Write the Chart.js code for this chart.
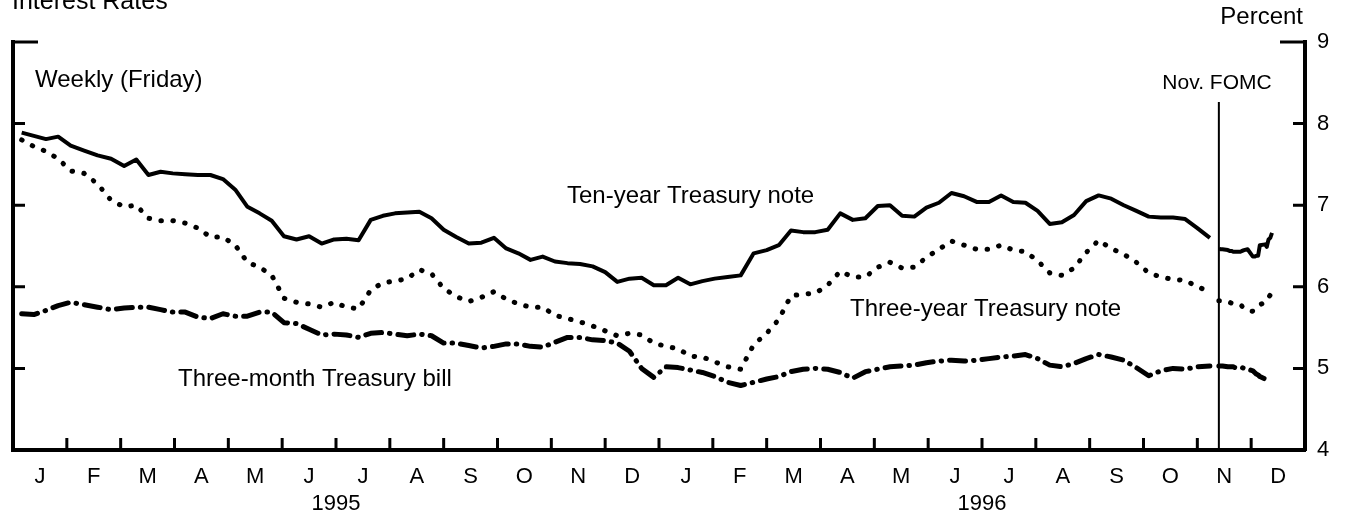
<!DOCTYPE html>
<html>
<head>
<meta charset="utf-8">
<script src="https://cdn.jsdelivr.net/npm/chart.js@4.4.1/dist/chart.umd.min.js"></script>
<style>
  body { margin: 0; background: #fff; }
</style>
</head>
<body>
<canvas id="ratesChart" width="1348" height="518"></canvas>
<script>
// weekly (Friday) readings, Jan 6 1995 .. Nov 8 1996
const firstFriday = '1995-01-06';
const tenYearWeekly = [
  7.89, 7.85, 7.81, 7.84, 7.73, 7.67, 7.61, 7.57, 7.48, 7.56,
  7.37, 7.41, 7.39, 7.38, 7.37, 7.37, 7.32, 7.19, 6.98, 6.90,
  6.81, 6.62, 6.58, 6.62, 6.53, 6.58, 6.59, 6.57, 6.82, 6.87,
  6.90, 6.91, 6.92, 6.84, 6.70, 6.61, 6.53, 6.54, 6.60, 6.47,
  6.41, 6.33, 6.37, 6.31, 6.29, 6.28, 6.25, 6.18, 6.06, 6.10,
  6.11, 6.02, 6.02, 6.11, 6.03, 6.07, 6.10, 6.12, 6.14, 6.41,
  6.45, 6.51, 6.69, 6.67, 6.67, 6.70, 6.90, 6.82, 6.84, 6.99,
  7.00, 6.87, 6.86, 6.97, 7.03, 7.15, 7.11, 7.04, 7.04, 7.12,
  7.04, 7.03, 6.93, 6.77, 6.79, 6.88, 7.05, 7.12, 7.08, 7.00,
  6.93, 6.86, 6.85, 6.85, 6.83, 6.72, 6.60
];
const threeYearWeekly = [
  7.80, 7.72, 7.66, 7.57, 7.42, 7.39, 7.26, 7.06, 6.98, 7.00,
  6.84, 6.81, 6.81, 6.78, 6.72, 6.61, 6.61, 6.51, 6.30, 6.24,
  6.14, 5.86, 5.81, 5.79, 5.75, 5.81, 5.75, 5.73, 5.96, 6.05,
  6.07, 6.10, 6.21, 6.16, 5.98, 5.88, 5.82, 5.87, 5.94, 5.85,
  5.79, 5.75, 5.75, 5.65, 5.61, 5.57, 5.52, 5.46, 5.40, 5.43,
  5.41, 5.31, 5.27, 5.24, 5.15, 5.14, 5.08, 5.02, 4.99, 5.29,
  5.43, 5.60, 5.89, 5.91, 5.92, 6.02, 6.19, 6.12, 6.12, 6.24,
  6.30, 6.23, 6.24, 6.36, 6.46, 6.56, 6.51, 6.46, 6.46, 6.51,
  6.45, 6.43, 6.32, 6.17, 6.14, 6.23, 6.42, 6.57, 6.47, 6.40,
  6.30, 6.17, 6.12, 6.09, 6.08, 6.00, 5.94
];
const billWeekly = [
  5.67, 5.66, 5.71, 5.77, 5.81, 5.78, 5.75, 5.72, 5.74, 5.75,
  5.75, 5.72, 5.69, 5.69, 5.63, 5.61, 5.67, 5.64, 5.64, 5.69,
  5.69, 5.56, 5.55, 5.48, 5.41, 5.42, 5.41, 5.38, 5.43, 5.44,
  5.42, 5.40, 5.42, 5.40, 5.31, 5.31, 5.28, 5.25, 5.27, 5.30,
  5.30, 5.27, 5.26, 5.32, 5.38, 5.38, 5.35, 5.34, 5.31, 5.21,
  5.00, 4.89, 5.02, 5.01, 4.98, 4.95, 4.90, 4.83, 4.79, 4.83,
  4.87, 4.90, 4.96, 4.99, 5.00, 4.99, 4.95, 4.88, 4.96, 4.99,
  5.02, 5.03, 5.04, 5.07, 5.09, 5.10, 5.09, 5.10, 5.12, 5.14,
  5.15, 5.17, 5.12, 5.04, 5.02, 5.06, 5.12, 5.17, 5.14, 5.10,
  5.01, 4.91, 4.97, 5.00, 4.99, 5.02, 5.03
];

// daily readings after the November FOMC meeting
const fomcDate = '1996-11-13';
const dailyDates = [
  '1996-11-13', '1996-11-14', '1996-11-15', '1996-11-18', '1996-11-19', '1996-11-20',
  '1996-11-21', '1996-11-22', '1996-11-25', '1996-11-26', '1996-11-27', '1996-11-29',
  '1996-12-02', '1996-12-03', '1996-12-04', '1996-12-05', '1996-12-06', '1996-12-09',
  '1996-12-10', '1996-12-11', '1996-12-12', '1996-12-13'
];
const tenYearDaily = [
  6.47, 6.46, 6.46, 6.45, 6.44, 6.44, 6.43, 6.43, 6.43, 6.44, 6.45, 6.46,
  6.37, 6.37, 6.38, 6.38, 6.51, 6.52, 6.49, 6.58, 6.60, 6.66
];
const threeYearDaily = [
  5.83, 5.83, 5.82, 5.81, 5.81, 5.80, 5.80, 5.79, 5.78, 5.76, 5.74, 5.71,
  5.70, 5.72, 5.74, 5.76, 5.78, 5.81, 5.83, 5.87, 5.90, 5.93
];
const billDaily = [
  5.03, 5.03, 5.03, 5.02, 5.02, 5.02, 5.02, 5.01, 5.01, 5.01, 5.00, 4.99,
  4.97, 4.95, 4.93, 4.92, 4.90, 4.87, 4.86, null, null, null
];

const monthLabels = ['J','F','M','A','M','J','J','A','S','O','N','D',
                     'J','F','M','A','M','J','J','A','S','O','N','D'];
const yearLabels = ['1995', '1996'];
const yearTicks = [6, 18];
const rateTicks = [4, 5, 6, 7, 8, 9];

// months since Jan 1 1995, as a fraction
function monthPos(d) {
  if (typeof d === 'string') {
    const p = d.split('-').map(Number);
    d = new Date(Date.UTC(p[0], p[1] - 1, p[2]));
  }
  const y = d.getUTCFullYear(), mo = d.getUTCMonth(), day = d.getUTCDate();
  const dim = new Date(Date.UTC(y, mo + 1, 0)).getUTCDate();
  return (y - 1995) * 12 + mo + (day - 1) / dim;
}

const startParts = firstFriday.split('-').map(Number);
function series(weekly, daily) {
  const pts = weekly.map((v, i) => ({
    x: monthPos(new Date(Date.UTC(startParts[0], startParts[1] - 1, startParts[2] + 7 * i))),
    y: v
  }));
  pts.push({ x: monthPos(fomcDate) - 0.01, y: null });
  daily.forEach((v, i) => pts.push({ x: monthPos(dailyDates[i]), y: v }));
  return pts;
}

const notes = [
  { text: 'Interest Rates', x: 12, y: 9, size: 25, align: 'left' },
  { text: 'Percent', x: 1303, y: 24, size: 24, align: 'right' },
  { text: 'Weekly (Friday)', x: 35, y: 87, size: 24, align: 'left' },
  { text: 'Ten-year Treasury note', x: 567, y: 203, size: 24, align: 'left' },
  { text: 'Three-year Treasury note', x: 850, y: 316, size: 24, align: 'left' },
  { text: 'Three-month Treasury bill', x: 178, y: 386, size: 24, align: 'left' },
  { text: 'Nov. FOMC', x: 1217, y: 89, size: 21, align: 'center' }
];

const extras = {
  id: 'extras',
  afterDraw(chart) {
    const { ctx, chartArea: a, scales } = chart;
    ctx.save();
    ctx.strokeStyle = '#000';
    ctx.lineWidth = 3;
    ctx.beginPath();
    for (let m = 1; m < 24; m++) {
      const x = scales.x.getPixelForValue(m);
      ctx.moveTo(x, a.bottom);
      ctx.lineTo(x, a.bottom - 12);
    }
    rateTicks.slice(1).forEach(v => {
      const y = scales.y.getPixelForValue(v);
      const len = v === 9 ? 25 : 12;
      ctx.moveTo(a.left, y); ctx.lineTo(a.left + len, y);
      ctx.moveTo(a.right, y); ctx.lineTo(a.right - len, y);
    });
    ctx.stroke();

    const fx = scales.x.getPixelForValue(monthPos(fomcDate));
    ctx.lineWidth = 2;
    ctx.beginPath();
    ctx.moveTo(fx, 102);
    ctx.lineTo(fx, a.bottom);
    ctx.stroke();

    ctx.fillStyle = '#000';
    ctx.textBaseline = 'alphabetic';
    notes.forEach(n => {
      ctx.font = n.size + 'px "Liberation Sans", Arial, sans-serif';
      ctx.textAlign = n.align;
      ctx.fillText(n.text, n.x, n.y);
    });
    ctx.restore();
  }
};

Chart.defaults.font.family = '"Liberation Sans", Arial, sans-serif';
Chart.defaults.color = '#000';

new Chart(document.getElementById('ratesChart'), {
  type: 'line',
  data: {
    datasets: [
      {
        label: 'Ten-year Treasury note',
        data: series(tenYearWeekly, tenYearDaily),
        borderColor: '#000',
        borderWidth: 4,
        borderJoinStyle: 'round',
        pointRadius: 0
      },
      {
        label: 'Three-year Treasury note',
        data: series(threeYearWeekly, threeYearDaily),
        borderColor: '#000',
        borderWidth: 5,
        borderDash: [0.5, 11.5],
        borderCapStyle: 'round',
        pointRadius: 0
      },
      {
        label: 'Three-month Treasury bill',
        data: series(billWeekly, billDaily),
        borderColor: '#000',
        borderWidth: 5,
        borderDash: [16, 8, 0.5, 8],
        borderCapStyle: 'round',
        borderJoinStyle: 'round',
        pointRadius: 0
      }
    ]
  },
  options: {
    responsive: false,
    animation: false,
    layout: { padding: { top: 42, left: 13, right: 0, bottom: 0 } },
    plugins: {
      legend: { display: false },
      tooltip: { enabled: false }
    },
    scales: {
      x: {
        type: 'linear', min: 0, max: 24,
        afterBuildTicks: axis => {
          const t = monthLabels.map((m, i) => i + 0.5).concat(yearTicks).sort((p, q) => p - q);
          axis.ticks = t.map(v => ({ value: v }));
        },
        afterFit: axis => { axis.height = 68; },
        ticks: {
          autoSkip: false, maxRotation: 0, minRotation: 0, padding: 14,
          font: { size: 22 }, color: '#000',
          callback: v => {
            const k = yearTicks.indexOf(v);
            return k >= 0 ? ['', yearLabels[k]] : monthLabels[Math.floor(v)];
          }
        },
        grid: { drawOnChartArea: false, drawTicks: false },
        border: { color: '#000', width: 4 }
      },
      y: {
        position: 'right', min: 4, max: 9,
        afterBuildTicks: axis => { axis.ticks = rateTicks.map(v => ({ value: v })); },
        afterFit: axis => { axis.width = 43; },
        ticks: { padding: 12, font: { size: 22 }, color: '#000' },
        grid: { drawOnChartArea: false, drawTicks: false },
        border: { color: '#000', width: 4 }
      },
      yLeft: {
        position: 'left', min: 4, max: 9,
        afterFit: axis => { axis.width = 0; },
        ticks: { display: false },
        grid: { drawOnChartArea: false, drawTicks: false },
        border: { color: '#000', width: 4 }
      }
    }
  },
  plugins: [extras]
});
</script>
</body>
</html>
